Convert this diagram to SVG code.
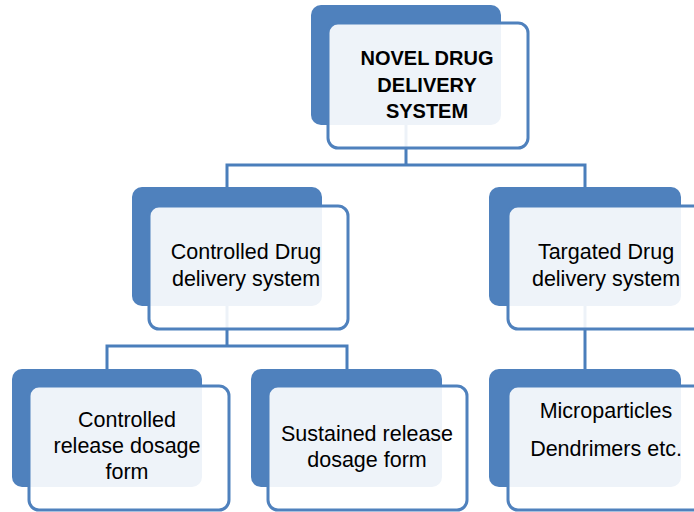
<svg xmlns="http://www.w3.org/2000/svg" width="694" height="512" viewBox="0 0 694 512">
<style>
.back{fill:#4F81BD;}
.front{fill:#FFFFFF;fill-opacity:0.9;stroke:#4F81BD;stroke-width:3;}
.conn{fill:none;stroke:#4A7EBB;stroke-width:3;}
text{font-family:"Liberation Sans",Arial,sans-serif;font-size:21.5px;fill:#000;text-anchor:middle;}
.bold{font-weight:bold;font-size:20px;}
</style>
<rect width="694" height="512" fill="#FFFFFF"/>
<g id="connectors">
<path class="conn" d="M406,125 V165 M227,187 V165 H585 V187"/>
<path class="conn" d="M227,306 V346 M107,369 V346 H347 V369"/>
<path class="conn" d="M585,306 V369"/>
</g>
<g id="node-ndds">
<rect class="back" x="311" y="5" width="190" height="120" rx="10"/>
<rect class="front" x="328" y="23" width="200" height="125" rx="10"/>
<text class="bold" x="427" y="65">NOVEL DRUG</text>
<text class="bold" x="427" y="92">DELIVERY</text>
<text class="bold" x="427" y="118">SYSTEM</text>
</g>
<g id="node-cdds">
<rect class="back" x="132" y="187" width="190" height="119" rx="10"/>
<rect class="front" x="149" y="206" width="199" height="123" rx="10"/>
<text x="246" y="259">Controlled Drug</text>
<text x="246" y="286">delivery system</text>
</g>
<g id="node-tdds">
<rect class="back" x="489" y="187" width="192" height="119" rx="10"/>
<rect class="front" x="508" y="206" width="200" height="123" rx="10"/>
<text x="606" y="259">Targated Drug</text>
<text x="606" y="286">delivery system</text>
</g>
<g id="node-crdf">
<rect class="back" x="12" y="369" width="190" height="118" rx="10"/>
<rect class="front" x="29" y="386" width="200" height="124" rx="10"/>
<text x="127" y="427">Controlled</text>
<text x="127" y="453">release dosage</text>
<text x="127" y="479">form</text>
</g>
<g id="node-srdf">
<rect class="back" x="251" y="369" width="191" height="118" rx="10"/>
<rect class="front" x="268" y="386" width="199" height="124" rx="10"/>
<text x="367" y="441">Sustained release</text>
<text x="367" y="467">dosage form</text>
</g>
<g id="node-micro">
<rect class="back" x="489" y="369" width="192" height="118" rx="10"/>
<rect class="front" x="508" y="386" width="200" height="124" rx="10"/>
<text x="606" y="418">Microparticles</text>
<text x="606" y="456">Dendrimers etc.</text>
</g>
</svg>
